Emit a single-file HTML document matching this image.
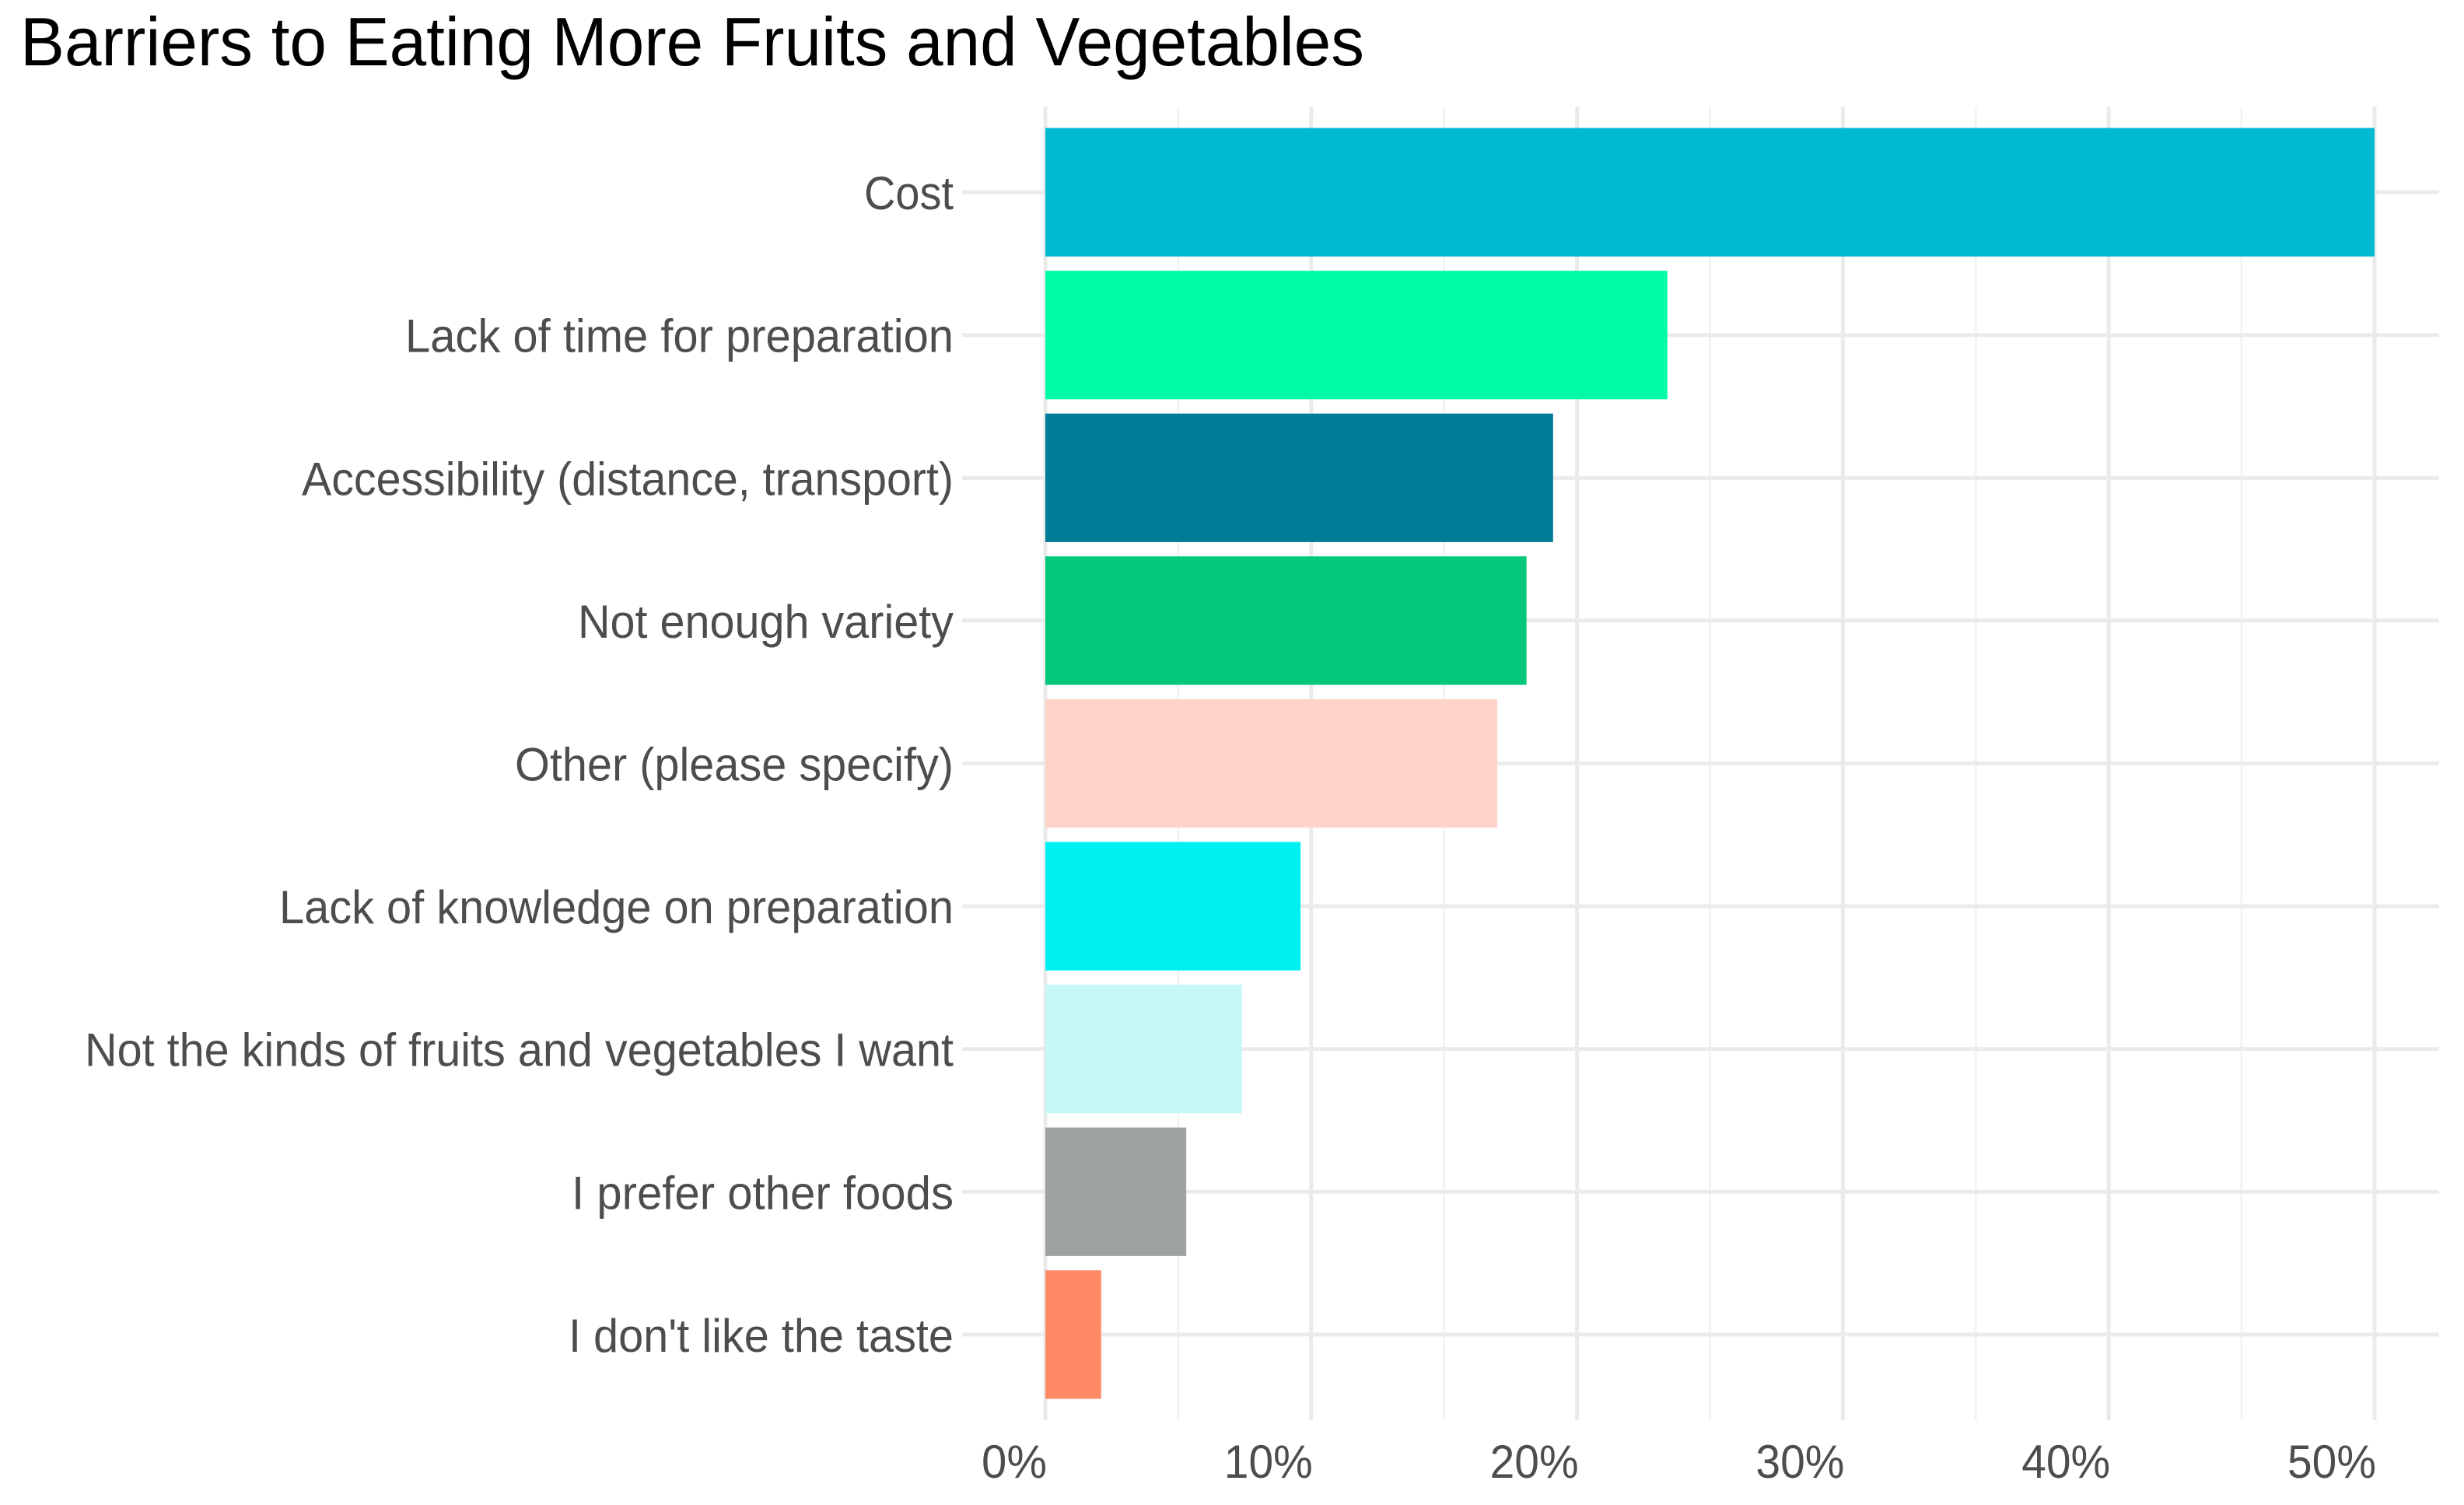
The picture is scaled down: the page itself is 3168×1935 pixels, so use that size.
<!DOCTYPE html>
<html><head><meta charset="utf-8"><style>
html,body{margin:0;padding:0;background:#fff;}
svg{display:block;font-family:"Liberation Sans",sans-serif;}
</style></head><body>
<svg id="chart" width="3168" height="1935" viewBox="0 0 3168 1935" xmlns="http://www.w3.org/2000/svg">
<rect width="3168" height="1935" fill="#fff"/>
<text x="26" y="84" font-size="88" fill="#000" textLength="1728" lengthAdjust="spacingAndGlyphs">Barriers to Eating More Fruits and Vegetables</text>
<g id="grid"></g><g id="bars"></g><g id="ylabels"></g><g id="xlabels"></g>
</svg>
<script>
const categories = ["Cost","Lack of time for preparation","Accessibility (distance, transport)","Not enough variety","Other (please specify)","Lack of knowledge on preparation","Not the kinds of fruits and vegetables I want","I prefer other foods","I don't like the taste"];
const values = [50.0, 23.4, 19.1, 18.1, 17.0, 9.6, 7.4, 5.3, 2.1];
const colors = ["#01B9D1","#00FDA5","#007C96","#03C77B","#FFD4C8","#00F0F2","#C6F8F6","#9EA2A2","#FF8A65"];
const tickValues = [0,10,20,30,40,50];
const tickLabels = ["0%","10%","20%","30%","40%","50%"];
const labelLeft = [1111,521,388,743,662,359,109,735,731];
const tickWidths = [84,114,114,114,114,114];

const NS="http://www.w3.org/2000/svg";
const x0=1344, pxPer=(3053-1344)/50, panelL=1237, panelR=3136, panelT=137, panelB=1826;
const step=(panelB-panelT)/(categories.length+0.2);
function xs(v){return x0+v*pxPer;}
function yc(i){return panelT+step*(0.6+i);}
function mk(tag,attrs,parent){const e=document.createElementNS(NS,tag);for(const k in attrs)e.setAttribute(k,attrs[k]);parent.appendChild(e);return e;}
const grid=document.getElementById('grid'),bars=document.getElementById('bars'),yl=document.getElementById('ylabels'),xl=document.getElementById('xlabels');
for(let v=0;v<=52;v+=5){
  const major=v%10===0;
  const l=mk('line',{x1:xs(v),x2:xs(v),y1:panelT,y2:panelB,stroke:major?'#ebebeb':'#f3f3f3','stroke-width':major?5:3},grid);
  
  
}
categories.forEach((c,i)=>{
  const l=mk('line',{x1:panelL,x2:panelR,y1:yc(i),y2:yc(i),stroke:'#ebebeb','stroke-width':5},grid);
  
  
  const r=mk('rect',{x:xs(0),y:yc(i)-step*0.45,width:xs(values[i])-xs(0),height:step*0.9,fill:colors[i]},bars);
  
  
  const t=mk('text',{x:1226,y:yc(i)+22,'font-size':60,fill:'#4d4d4d','text-anchor':'end',textLength:1226-labelLeft[i],lengthAdjust:'spacingAndGlyphs'},yl);
  t.textContent=c;
  
  
});
tickValues.forEach((v,i)=>{
  const t=mk('text',{x:xs(v)+2,y:1900,'font-size':60,fill:'#4d4d4d','text-anchor':'end',textLength:tickWidths[i],lengthAdjust:'spacingAndGlyphs'},xl);
  t.textContent=tickLabels[i];
  
  
});
</script>
</body></html>
